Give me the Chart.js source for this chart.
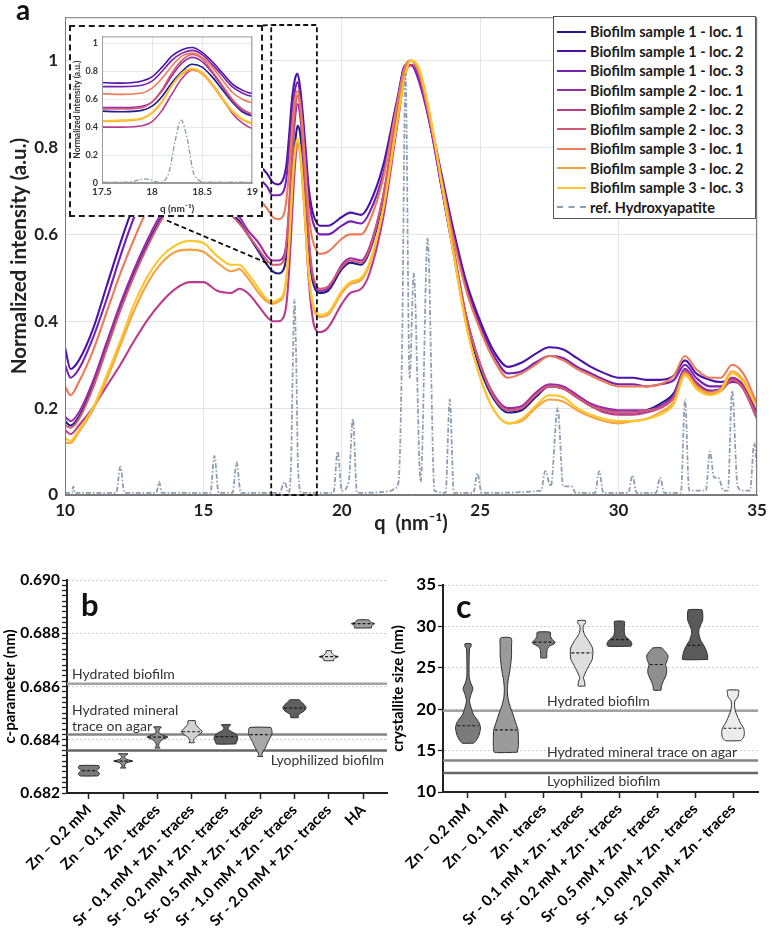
<!DOCTYPE html>
<html>
<head>
<meta charset="utf-8">
<script src="https://cdn.jsdelivr.net/npm/chart.js@4.4.1/dist/chart.umd.min.js"></script>
<style>
    body { margin: 0; background: #fff; }
    #page { position: relative; width: 775px; height: 929px; overflow: hidden; background: #fff; }
    .box { position: absolute; }
    #inset { position: absolute; left: 69px; top: 25px; width: 190px; height: 188px; border: 2px dashed #1a1a1a; background: #fff; }
    #inset .wrap { position: relative; width: 190px; height: 188px; }
    #legend { position: absolute; left: 553px; top: 16px; width: 203px; height: 203px; border: 1px solid #555; background: #fff; font: bold 14.5px Lato, sans-serif; color: #1a1a1a; box-sizing: border-box; padding-top: 5px; }
    #legend .row { height: 19.5px; display: flex; align-items: center; white-space: nowrap; }
    #legend .sw { display: inline-block; width: 29px; margin: 0 4px 0 3px; }
    .letter { position: absolute; font-family: Lato, sans-serif; font-weight: bold; color: #111; line-height: 1; }
</style>
</head>
<body>
<div id="page">
    <div class="box" style="left:0;top:0;width:775px;height:540px"><canvas id="main"></canvas></div>
    <div id="inset"><div class="wrap"><canvas id="zoom"></canvas></div></div>
    <div id="legend"></div>
    <div class="box" style="left:0;top:560px;width:392px;height:369px"><canvas id="cparam"></canvas></div>
    <div class="box" style="left:385px;top:560px;width:390px;height:369px"><canvas id="size"></canvas></div>
    <div class="letter" style="left:16px;top:-5px;font-size:28px">a</div>
    <div class="letter" style="left:81px;top:589px;font-size:31px">b</div>
    <div class="letter" style="left:456px;top:590px;font-size:32px">c</div>
</div>

<script>
// ---- panel a: SAXS/WAXS curves ----
const qGrid = [10, 10.2, 10.5, 11, 11.5, 12, 12.5, 13, 13.5, 14,
    14.5, 15, 15.5, 16, 16.3, 16.6, 17, 17.3, 17.5, 17.7,
    17.9, 18.0, 18.1, 18.2, 18.3, 18.4, 18.5, 18.6, 18.7, 18.8,
    18.9, 19.0, 19.2, 19.5, 20, 20.3, 20.7, 21, 21.5, 22,
    22.3, 22.5, 22.8, 23.2, 23.6, 24, 24.5, 25, 25.5, 26,
    26.5, 27, 27.5, 28, 28.5, 29, 29.5, 30, 30.5, 31,
    31.5, 32, 32.4, 32.8, 33.3, 33.7, 34.1, 34.5, 35];

const sample1loc1 = [0.17, 0.16, 0.18, 0.25, 0.34, 0.43, 0.51, 0.58, 0.64, 0.68,
    0.70, 0.70, 0.68, 0.65, 0.63, 0.60, 0.56, 0.53, 0.515, 0.51,
    0.52, 0.55, 0.62, 0.72, 0.80, 0.85, 0.83, 0.76, 0.67, 0.58,
    0.51, 0.48, 0.465, 0.47, 0.52, 0.535, 0.53, 0.56, 0.68, 0.87,
    0.98, 0.99, 0.96, 0.85, 0.71, 0.57, 0.40, 0.29, 0.22, 0.19,
    0.195, 0.225, 0.25, 0.245, 0.225, 0.205, 0.195, 0.19, 0.19, 0.195,
    0.21, 0.235, 0.29, 0.255, 0.24, 0.245, 0.27, 0.25, 0.18];
const sample1loc2 = [0.34, 0.29, 0.31, 0.38, 0.48, 0.58, 0.67, 0.74, 0.79, 0.82,
    0.83, 0.83, 0.82, 0.80, 0.79, 0.78, 0.76, 0.74, 0.72, 0.715,
    0.73, 0.76, 0.83, 0.91, 0.955, 0.97, 0.935, 0.87, 0.79, 0.71,
    0.665, 0.64, 0.62, 0.62, 0.64, 0.65, 0.645, 0.67, 0.76, 0.91,
    0.99, 0.99, 0.96, 0.86, 0.74, 0.62, 0.49, 0.40, 0.33, 0.295,
    0.305, 0.325, 0.34, 0.335, 0.315, 0.295, 0.28, 0.27, 0.27, 0.265,
    0.265, 0.275, 0.31, 0.28, 0.265, 0.26, 0.265, 0.255, 0.19];
const sample1loc3 = [0.30, 0.27, 0.29, 0.36, 0.45, 0.55, 0.64, 0.71, 0.76, 0.79,
    0.80, 0.80, 0.79, 0.77, 0.76, 0.75, 0.73, 0.71, 0.69, 0.69,
    0.70, 0.73, 0.80, 0.88, 0.93, 0.95, 0.92, 0.85, 0.77, 0.69,
    0.645, 0.62, 0.60, 0.60, 0.62, 0.63, 0.625, 0.65, 0.74, 0.90,
    0.99, 0.99, 0.95, 0.85, 0.73, 0.61, 0.48, 0.39, 0.32, 0.28,
    0.285, 0.305, 0.32, 0.315, 0.295, 0.28, 0.265, 0.255, 0.255, 0.25,
    0.255, 0.265, 0.30, 0.27, 0.25, 0.25, 0.26, 0.25, 0.19];
const sample2loc1 = [0.18, 0.17, 0.19, 0.26, 0.35, 0.44, 0.52, 0.59, 0.65, 0.69,
    0.71, 0.71, 0.69, 0.66, 0.64, 0.61, 0.58, 0.55, 0.54, 0.54,
    0.55, 0.58, 0.66, 0.77, 0.86, 0.90, 0.87, 0.79, 0.69, 0.59,
    0.52, 0.49, 0.47, 0.475, 0.53, 0.545, 0.54, 0.57, 0.69, 0.88,
    0.98, 0.99, 0.96, 0.85, 0.71, 0.57, 0.41, 0.30, 0.23, 0.20,
    0.205, 0.235, 0.255, 0.25, 0.23, 0.21, 0.20, 0.195, 0.195, 0.195,
    0.205, 0.23, 0.29, 0.26, 0.24, 0.245, 0.27, 0.25, 0.18];
const sample2loc2 = [0.15, 0.14, 0.16, 0.20, 0.25, 0.30, 0.355, 0.405, 0.445, 0.475,
    0.49, 0.49, 0.47, 0.465, 0.475, 0.465, 0.435, 0.41, 0.40, 0.40,
    0.41, 0.44, 0.52, 0.64, 0.75, 0.81, 0.79, 0.71, 0.61, 0.50,
    0.43, 0.39, 0.375, 0.385, 0.44, 0.465, 0.475, 0.51, 0.64, 0.85,
    0.97, 0.99, 0.97, 0.86, 0.72, 0.58, 0.41, 0.30, 0.225, 0.195,
    0.20, 0.23, 0.25, 0.245, 0.225, 0.205, 0.19, 0.185, 0.185, 0.19,
    0.20, 0.225, 0.285, 0.25, 0.235, 0.24, 0.265, 0.245, 0.175];
const sample2loc3 = [0.16, 0.155, 0.175, 0.245, 0.335, 0.425, 0.505, 0.575, 0.635, 0.675,
    0.695, 0.695, 0.675, 0.645, 0.625, 0.60, 0.565, 0.54, 0.53, 0.53,
    0.54, 0.58, 0.67, 0.79, 0.88, 0.92, 0.89, 0.80, 0.70, 0.60,
    0.53, 0.495, 0.475, 0.48, 0.525, 0.54, 0.535, 0.565, 0.69, 0.88,
    0.98, 1.0, 0.97, 0.86, 0.72, 0.58, 0.41, 0.30, 0.225, 0.195,
    0.20, 0.23, 0.25, 0.245, 0.225, 0.205, 0.195, 0.19, 0.19, 0.195,
    0.20, 0.225, 0.285, 0.255, 0.235, 0.24, 0.265, 0.245, 0.18];
const sample3loc1 = [0.25, 0.23, 0.26, 0.33, 0.42, 0.51, 0.59, 0.66, 0.71, 0.74,
    0.75, 0.75, 0.74, 0.72, 0.71, 0.70, 0.68, 0.66, 0.64, 0.635,
    0.645, 0.68, 0.75, 0.84, 0.91, 0.93, 0.90, 0.83, 0.74, 0.65,
    0.60, 0.575, 0.555, 0.56, 0.59, 0.60, 0.60, 0.63, 0.73, 0.90,
    0.99, 1.0, 0.97, 0.86, 0.73, 0.60, 0.47, 0.38, 0.31, 0.27,
    0.28, 0.30, 0.32, 0.31, 0.29, 0.275, 0.26, 0.25, 0.25, 0.25,
    0.255, 0.275, 0.32, 0.29, 0.27, 0.27, 0.30, 0.28, 0.21];
const sample3loc2 = [0.12, 0.12, 0.145, 0.195, 0.265, 0.345, 0.425, 0.49, 0.535, 0.56,
    0.565, 0.56, 0.535, 0.515, 0.52, 0.50, 0.465, 0.445, 0.44, 0.445,
    0.46, 0.50, 0.58, 0.70, 0.78, 0.81, 0.78, 0.70, 0.60, 0.51,
    0.455, 0.425, 0.41, 0.415, 0.465, 0.485, 0.495, 0.53, 0.66, 0.86,
    0.97, 1.0, 0.98, 0.87, 0.72, 0.57, 0.39, 0.27, 0.195, 0.165,
    0.17, 0.20, 0.22, 0.215, 0.195, 0.18, 0.17, 0.165, 0.17, 0.175,
    0.19, 0.215, 0.28, 0.25, 0.235, 0.245, 0.285, 0.265, 0.20];
const sample3loc3 = [0.13, 0.125, 0.15, 0.20, 0.275, 0.355, 0.44, 0.505, 0.55, 0.575,
    0.585, 0.58, 0.55, 0.53, 0.53, 0.51, 0.475, 0.45, 0.445, 0.45,
    0.465, 0.505, 0.585, 0.70, 0.79, 0.82, 0.79, 0.71, 0.61, 0.52,
    0.46, 0.43, 0.415, 0.42, 0.47, 0.49, 0.50, 0.535, 0.66, 0.86,
    0.97, 1.0, 0.98, 0.87, 0.72, 0.57, 0.39, 0.27, 0.195, 0.165,
    0.175, 0.205, 0.23, 0.225, 0.20, 0.185, 0.175, 0.17, 0.17, 0.175,
    0.185, 0.21, 0.275, 0.245, 0.23, 0.24, 0.28, 0.26, 0.20];

const seriesNames = ["Biofilm sample 1 - loc. 1", "Biofilm sample 1 - loc. 2", "Biofilm sample 1 - loc. 3",
    "Biofilm sample 2 - loc. 1", "Biofilm sample 2 - loc. 2", "Biofilm sample 2 - loc. 3",
    "Biofilm sample 3 - loc. 1", "Biofilm sample 3 - loc. 2", "Biofilm sample 3 - loc. 3"];
const seriesValues = [sample1loc1, sample1loc2, sample1loc3, sample2loc1, sample2loc2,
    sample2loc3, sample3loc1, sample3loc2, sample3loc3];
const seriesColors = ["#1f1b8c", "#4a14ab", "#7621b2", "#9b2ca9", "#b93b8c", "#d05a72",
    "#ec7b59", "#f7a040", "#fcc72c"];

// reference hydroxyapatite pattern
const haQ = [10, 10.25, 10.3, 10.35, 11.85, 12.0, 12.15, 13.3, 13.4, 13.5,
    15.25, 15.4, 15.55, 16.05, 16.2, 16.35, 17.75, 17.93, 18.08, 18.17,
    18.23, 18.29, 18.35, 18.42, 18.55, 19.7, 19.85, 20.0, 20.25, 20.4,
    20.55, 21.8, 21.9, 22.05, 22.18, 22.3, 22.45, 22.6, 22.85, 23.1,
    23.35, 23.75, 23.9, 24.05, 24.75, 24.9, 25.05, 27.2, 27.35, 27.55,
    27.8, 28.0, 28.3, 28.45, 29.15, 29.3, 29.45, 30.35, 30.5, 30.65,
    31.35, 31.5, 31.65, 32.25, 32.4, 32.55, 33.15, 33.3, 33.45, 33.6,
    33.8, 33.95, 34.1, 34.3, 34.5, 34.75, 34.9, 35];
const haI = [0.005, 0.005, 0.02, 0.005, 0.005, 0.065, 0.005, 0.005, 0.03, 0.005,
    0.005, 0.09, 0.005, 0.005, 0.075, 0.005, 0.005, 0.03, 0.005, 0.08,
    0.3, 0.45, 0.32, 0.06, 0.005, 0.005, 0.1, 0.01, 0.03, 0.175,
    0.005, 0.01, 0.015, 0.03, 0.35, 0.97, 0.27, 0.51, 0.03, 0.59,
    0.01, 0.005, 0.22, 0.005, 0.005, 0.05, 0.005, 0.01, 0.055, 0.02,
    0.2, 0.02, 0.02, 0.005, 0.005, 0.055, 0.005, 0.005, 0.045, 0.005,
    0.005, 0.04, 0.005, 0.005, 0.22, 0.01, 0.01, 0.1, 0.04, 0.04,
    0.01, 0.01, 0.24, 0.02, 0.01, 0.01, 0.12, 0.06];
const haColor = "#8d9db0";

// zoom window [qMin, qMax, iMin, iMax] and where the inset frame sits (q, intensity)
const zoomBox = [17.45, 19.1, 0, 1.082];
const insetCorner = [13.68, 1.068, 0.632];

// ---- panel b: c-parameter ----
const paramCats = ["Zn – 0.2 mM", "Zn – 0.1 mM", "Zn - traces", "Sr - 0.1 mM + Zn - traces",
    "Sr - 0.2 mM + Zn - traces", "Sr- 0.5 mM + Zn - traces", "Sr - 1.0 mM + Zn - traces",
    "Sr - 2.0 mM + Zn - traces", "HA"];
const paramY = [
    [0.68264, 0.68270, 0.68278, 0.68284, 0.68290, 0.68296, 0.68303],
    [0.68294, 0.68298, 0.68305, 0.68314, 0.68320, 0.68326, 0.68335, 0.68342, 0.68347],
    [0.68369, 0.68374, 0.68385, 0.68400, 0.68410, 0.68418, 0.68428, 0.68440, 0.68448],
    [0.68389, 0.68394, 0.68402, 0.68415, 0.68430, 0.68445, 0.68460, 0.68471],
    [0.68384, 0.68392, 0.68402, 0.68412, 0.68422, 0.68432, 0.68440, 0.68448, 0.68456],
    [0.68337, 0.68342, 0.68350, 0.68362, 0.68375, 0.68390, 0.68405, 0.68420, 0.68435, 0.68446],
    [0.68483, 0.68490, 0.68497, 0.68505, 0.68512, 0.68520, 0.68528, 0.68536, 0.68545, 0.68550],
    [0.68697, 0.68702, 0.68708, 0.68712, 0.68716, 0.68722, 0.68728, 0.68734],
    [0.68820, 0.68826, 0.68832, 0.68836, 0.68842, 0.68850]
];
const paramW = [
    [0.25, 0.31, 0.28, 0.22, 0.28, 0.31, 0.28],
    [0.08, 0.04, 0.04, 0.11, 0.28, 0.11, 0.04, 0.08, 0.14],
    [0.08, 0.04, 0.04, 0.14, 0.31, 0.14, 0.04, 0.06, 0.11],
    [0.08, 0.06, 0.06, 0.17, 0.31, 0.20, 0.11, 0.11],
    [0.28, 0.31, 0.34, 0.34, 0.28, 0.14, 0.06, 0.07, 0.14],
    [0.08, 0.04, 0.06, 0.11, 0.17, 0.22, 0.28, 0.34, 0.34, 0.31],
    [0.11, 0.11, 0.14, 0.25, 0.31, 0.34, 0.31, 0.25, 0.17, 0.14],
    [0.14, 0.14, 0.20, 0.28, 0.17, 0.11, 0.08, 0.08],
    [0.25, 0.25, 0.28, 0.34, 0.22, 0.17]
];
const paramMedian = [0.68284, 0.68320, 0.68410, 0.68430, 0.68412, 0.68419, 0.68519, 0.68712, 0.68836];
const paramFill = ["#7a7a7a", "#8a8a8a", "#8c8c8c", "#d2d2d2", "#5f5f5f", "#a9a9a9", "#5f5f5f", "#dadada", "#a0a0a0"];
const paramRef = [0.6861, 0.6842, 0.6836];

// ---- panel c: crystallite size ----
const sizeCats = paramCats.slice(0, 8);
const sizeY = [
    [15.9, 16.3, 17.0, 17.8, 18.5, 19.3, 20.2, 21.0, 21.8, 22.5, 23.3, 24.0, 26.0, 27.3, 27.6, 27.9],
    [14.8, 15.5, 16.5, 17.5, 18.5, 19.5, 20.5, 21.5, 22.5, 23.5, 24.5, 25.5, 26.5, 27.5, 28.6],
    [26.2, 26.6, 27.2, 27.6, 27.9, 28.1, 28.4, 28.8, 29.3],
    [22.8, 23.3, 23.8, 24.5, 25.3, 26.0, 26.8, 27.5, 28.3, 29.0, 29.6, 30.1, 30.4, 30.7],
    [27.6, 27.9, 28.2, 28.5, 28.9, 29.4, 30.0, 30.6],
    [22.3, 22.8, 23.5, 24.2, 24.8, 25.4, 26.0, 26.5, 27.0, 27.4],
    [26.0, 26.4, 27.0, 27.7, 28.3, 29.0, 29.6, 30.2, 30.8, 31.5, 32.0],
    [16.2, 16.6, 17.2, 17.7, 18.3, 19.0, 19.8, 20.5, 21.0, 21.5, 22.0, 22.3]
];
const sizeW = [
    [0.15, 0.23, 0.30, 0.33, 0.28, 0.15, 0.08, 0.04, 0.08, 0.13, 0.06, 0.03, 0.03, 0.04, 0.08, 0.08],
    [0.30, 0.33, 0.33, 0.32, 0.25, 0.18, 0.10, 0.05, 0.04, 0.06, 0.10, 0.13, 0.15, 0.15, 0.14],
    [0.08, 0.08, 0.09, 0.15, 0.28, 0.30, 0.23, 0.18, 0.17],
    [0.09, 0.08, 0.05, 0.11, 0.20, 0.28, 0.30, 0.28, 0.18, 0.08, 0.04, 0.05, 0.10, 0.10],
    [0.30, 0.33, 0.30, 0.23, 0.15, 0.13, 0.13, 0.13],
    [0.10, 0.11, 0.17, 0.24, 0.25, 0.22, 0.27, 0.28, 0.20, 0.12],
    [0.33, 0.33, 0.30, 0.23, 0.15, 0.10, 0.10, 0.15, 0.20, 0.20, 0.18],
    [0.20, 0.28, 0.30, 0.28, 0.20, 0.13, 0.06, 0.04, 0.05, 0.13, 0.15, 0.15]
];
const sizeMedian = [18.0, 17.5, 28.1, 26.8, 28.4, 25.4, 27.7, 17.7];
const sizeFill = ["#7b7b7b", "#9b9b9b", "#7e7e7e", "#dedede", "#5a5a5a", "#8f8f8f", "#5a5a5a", "#ececec"];
const sizeRef = [19.8, 13.8, 12.3];

const refColors = ["#a3a3a3", "#858585", "#666666"];

// ---------------------------------------------------------------

function curveSets(width) {
    const sets = seriesValues.map((vals, i) => ({
        label: seriesNames[i],
        data: vals.map((v, k) => ({ x: qGrid[k], y: v })),
        borderColor: seriesColors[i],
        borderWidth: width,
        pointRadius: 0,
        fill: false,
        cubicInterpolationMode: "monotone",
        order: 20 - i,
    }));
    sets.push({
        label: "ref. Hydroxyapatite",
        data: haI.map((v, k) => ({ x: haQ[k], y: v })),
        borderColor: haColor,
        borderWidth: width * 0.85,
        borderDash: [5, 2, 1.5, 2],
        pointRadius: 0,
        fill: false,
        cubicInterpolationMode: "monotone",
        order: 0,
    });
    return sets;
}

const mainFrame = {
    id: "mainFrame",
    afterDatasetsDraw(chart) {
        const { ctx, chartArea: a, scales: { x, y } } = chart;
        ctx.save();
        ctx.strokeStyle = "#7a7a7a";
        ctx.lineWidth = 1;
        ctx.strokeRect(a.left + 0.5, a.top + 0.5, a.right - a.left - 1, a.bottom - a.top - 1);

        ctx.strokeStyle = "#111";
        ctx.lineWidth = 1.8;
        ctx.setLineDash([5, 3]);
        const l = x.getPixelForValue(zoomBox[0]);
        const r = x.getPixelForValue(zoomBox[1]);
        const t = y.getPixelForValue(zoomBox[3]);
        const b = y.getPixelForValue(zoomBox[2]);
        ctx.strokeRect(l, t, r - l, b - t);

        const cx = x.getPixelForValue(insetCorner[0]);
        ctx.beginPath();
        ctx.moveTo(cx, y.getPixelForValue(insetCorner[1]));
        ctx.lineTo(l, t);
        ctx.moveTo(cx, y.getPixelForValue(insetCorner[2]));
        ctx.lineTo(l, y.getPixelForValue(0.53));
        ctx.stroke();
        ctx.restore();
    }
};

const boldLato = (size) => ({ family: "Lato", size: size, weight: "bold" });

new Chart(document.getElementById("main"), {
    type: "line",
    data: { datasets: curveSets(2.1) },
    options: {
        responsive: true,
        maintainAspectRatio: false,
        animation: false,
        events: [],
        layout: { padding: { left: 4, top: 11, right: 18, bottom: 0 } },
        plugins: { legend: { display: false }, tooltip: { enabled: false } },
        scales: {
            x: {
                type: "linear",
                min: 10,
                max: 35,
                afterFit: (axis) => { axis.height = 45; },
                ticks: { stepSize: 5, font: boldLato(17), color: "#222", padding: 5 },
                grid: { color: "#e4e4e4", drawTicks: false },
                border: { color: "#7a7a7a" },
                title: { display: true, text: "q  (nm⁻¹)", font: boldLato(20), color: "#222", padding: { top: 0, bottom: 4 } },
            },
            y: {
                min: 0,
                max: 1.1,
                afterFit: (axis) => { axis.width = 61; },
                ticks: {
                    stepSize: 0.2,
                    includeBounds: false,
                    font: boldLato(17),
                    color: "#222",
                    padding: 7,
                    callback: (v) => String(+v.toFixed(1)),
                },
                grid: { color: "#e4e4e4", drawTicks: false },
                border: { color: "#7a7a7a" },
                title: { display: true, text: "Normalized intensity (a.u.)", font: boldLato(20.5), color: "#222", padding: { top: 3, bottom: 0 } },
            },
        },
    },
    plugins: [mainFrame],
});

const insetFrame = {
    id: "insetFrame",
    afterDatasetsDraw(chart) {
        const { ctx, chartArea: a } = chart;
        ctx.save();
        ctx.strokeStyle = "#9a9a9a";
        ctx.lineWidth = 1;
        ctx.strokeRect(a.left + 0.5, a.top + 0.5, a.right - a.left - 1, a.bottom - a.top - 1);
        ctx.restore();
    }
};

new Chart(document.getElementById("zoom"), {
    type: "line",
    data: { datasets: curveSets(1.6) },
    options: {
        responsive: true,
        maintainAspectRatio: false,
        animation: false,
        events: [],
        layout: { padding: { left: 1, top: 4, right: 8, bottom: 0 } },
        plugins: { legend: { display: false }, tooltip: { enabled: false } },
        scales: {
            x: {
                type: "linear",
                min: 17.5,
                max: 19,
                afterFit: (axis) => { axis.height = 32; },
                ticks: { stepSize: 0.5, font: boldLato(10), color: "#333", padding: 3, maxRotation: 0,
                    callback: (v) => String(+v.toFixed(1)) },
                grid: { color: "#e6e6e6", drawTicks: false },
                border: { color: "#9a9a9a" },
                title: { display: true, text: "q (nm⁻¹)", font: boldLato(10), color: "#333", padding: { top: 0, bottom: 0 } },
            },
            y: {
                min: 0,
                max: 1.05,
                afterFit: (axis) => { axis.width = 30; },
                ticks: {
                    stepSize: 0.2,
                    includeBounds: false,
                    font: boldLato(9),
                    color: "#333",
                    padding: 4,
                    callback: (v) => String(+v.toFixed(1)),
                },
                grid: { color: "#e6e6e6", drawTicks: false },
                border: { color: "#9a9a9a" },
                title: { display: true, text: "Normalized intensity (a.u.)", font: boldLato(8.5), color: "#333", padding: { top: 0, bottom: 0 } },
            },
        },
    },
    plugins: [insetFrame],
});

// html legend
const legendBox = document.getElementById("legend");
seriesNames.forEach((name, i) => {
    legendBox.insertAdjacentHTML("beforeend",
        `<div class="row"><span class="sw" style="border-top:2.5px solid ${seriesColors[i]}"></span>${name}</div>`);
});
legendBox.insertAdjacentHTML("beforeend",
    `<div class="row"><span class="sw" style="border-top:2px dashed ${haColor}"></span>ref. Hydroxyapatite</div>`);

// ---- violin panels ----
function widthAt(ys, ws, v) {
    for (let k = 1; k < ys.length; k++) {
        if (v <= ys[k]) {
            const f = (v - ys[k - 1]) / (ys[k] - ys[k - 1]);
            return ws[k - 1] + f * (ws[k] - ws[k - 1]);
        }
    }
    return ws[ws.length - 1];
}

function violinSets(ys, ws, medians, fills, refs, xMin, xMax) {
    const sets = [];
    refs.forEach((v, i) => {
        sets.push({
            data: [{ x: xMin, y: v }, { x: xMax, y: v }],
            borderColor: refColors[i],
            borderWidth: 2.5,
            pointRadius: 0,
            fill: false,
            order: 30,
        });
    });
    ys.forEach((levels, i) => {
        const right = levels.map((v, k) => ({ x: i + ws[i][k], y: v }));
        const left = levels.map((v, k) => ({ x: i - ws[i][k], y: v })).reverse();
        sets.push({
            data: [...right, ...left, right[0]],
            borderColor: "#2b2b2b",
            borderWidth: 1,
            backgroundColor: fills[i],
            fill: "shape",
            pointRadius: 0,
            tension: 0.2,
            order: 10,
        });
        const wm = widthAt(levels, ws[i], medians[i]) * 0.9;
        sets.push({
            data: [{ x: i - wm, y: medians[i] }, { x: i + wm, y: medians[i] }],
            borderColor: "#1a1a1a",
            borderWidth: 1.2,
            borderDash: [3, 2],
            pointRadius: 0,
            fill: false,
            order: 5,
        });
    });
    return sets;
}

function refLabelPlugin(items) {
    return {
        id: "refLabels",
        afterDraw(chart) {
            const { ctx, chartArea: a, scales: { y } } = chart;
            ctx.save();
            ctx.font = "14px Lato";
            ctx.fillStyle = "#333";
            ctx.textBaseline = "middle";
            items.forEach((it) => {
                const py = y.getPixelForValue(it.value);
                ctx.textAlign = it.align;
                const px = it.align === "right" ? a.right - 3 : a.left + it.dx;
                it.lines.forEach((txt, j) => ctx.fillText(txt, px, py + it.dy + j * 16));
            });
            ctx.restore();
        }
    };
}

function violinChart(canvasId, cats, ys, ws, medians, fills, refs, opt) {
    const catTicks = cats.map((_, i) => ({ value: i }));
    return new Chart(document.getElementById(canvasId), {
        type: "line",
        data: { datasets: violinSets(ys, ws, medians, fills, refs, opt.xMin, opt.xMax) },
        options: {
            responsive: true,
            maintainAspectRatio: false,
            animation: false,
            events: [],
            layout: { padding: opt.padding },
            plugins: { legend: { display: false }, tooltip: { enabled: false } },
            scales: {
                x: {
                    type: "linear",
                    min: opt.xMin,
                    max: opt.xMax,
                    afterBuildTicks: (axis) => { axis.ticks = catTicks.map((t) => ({ value: t.value })); },
                    afterFit: (axis) => { axis.height = opt.xHeight; },
                    ticks: {
                        autoSkip: false,
                        minRotation: 45,
                        maxRotation: 45,
                        padding: 2,
                        font: boldLato(15),
                        color: "#000",
                        callback: (v) => cats[v] ?? "",
                    },
                    grid: { drawOnChartArea: false, tickLength: 6, tickColor: "#222", tickWidth: 1.5 },
                    border: { color: "#222", width: 2 },
                },
                y: {
                    min: opt.yMin,
                    max: opt.yMax,
                    afterBuildTicks: (axis) => { axis.ticks = opt.yTicks.map((v) => ({ value: v })); },
                    afterFit: (axis) => { axis.width = opt.yWidth; },
                    ticks: {
                        autoSkip: false,
                        font: boldLato(opt.tickSize),
                        color: "#000",
                        padding: 2,
                        callback: opt.yLabel,
                    },
                    grid: {
                        color: (c) => opt.isMajor(c.tick.value) ? "#cfcfcf" : "rgba(0,0,0,0)",
                        tickColor: "#222",
                        tickLength: 5,
                        tickWidth: 1.3,
                    },
                    border: { color: "#222", width: 2, dash: [2, 2] },
                    title: { display: true, text: opt.yTitle, font: boldLato(15), color: "#000", padding: { top: 1, bottom: 0 } },
                },
            },
        },
        plugins: [refLabelPlugin(opt.refLabels)],
    });
}

// minor ticks every 0.0002 for the c-parameter axis
const paramTicks = [];
for (let k = 0; k <= 40; k++) paramTicks.push(+(0.682 + k * 0.0002).toFixed(4));
const paramMajor = (v) => Math.abs(v * 500 - Math.round(v * 500)) < 1e-6;

violinChart("cparam", paramCats, paramY, paramW, paramMedian, paramFill, paramRef, {
    xMin: -0.64, xMax: 8.7, yMin: 0.682, yMax: 0.690,
    padding: { left: 0, top: 20, right: 5, bottom: 0 },
    xHeight: 136, yWidth: 67, tickSize: 15.5,
    yTicks: paramTicks,
    isMajor: paramMajor,
    yLabel: (v) => paramMajor(v) ? v.toFixed(3) : "",
    yTitle: "c-parameter (nm)",
    refLabels: [
        { value: paramRef[0], lines: ["Hydrated biofilm"], align: "left", dx: 5, dy: -9 },
        { value: paramRef[1], lines: ["Hydrated mineral", "trace on agar"], align: "left", dx: 5, dy: -24 },
        { value: paramRef[2], lines: ["Lyophilized biofilm"], align: "right", dx: 0, dy: 10 },
    ],
});

violinChart("size", sizeCats, sizeY, sizeW, sizeMedian, sizeFill, sizeRef, {
    xMin: -0.66, xMax: 7.66, yMin: 10, yMax: 35,
    padding: { left: 3, top: 25, right: 17, bottom: 0 },
    xHeight: 137, yWidth: 55, tickSize: 17,
    yTicks: [10, 15, 20, 25, 30, 35],
    isMajor: () => true,
    yLabel: (v) => String(v),
    yTitle: "crystallite size (nm)",
    refLabels: [
        { value: sizeRef[0], lines: ["Hydrated biofilm"], align: "left", dx: 104, dy: -9 },
        { value: sizeRef[1], lines: ["Hydrated mineral trace on agar"], align: "left", dx: 104, dy: -8 },
        { value: sizeRef[2], lines: ["Lyophilized biofilm"], align: "left", dx: 104, dy: 9 },
    ],
});
</script>
</body>
</html>
